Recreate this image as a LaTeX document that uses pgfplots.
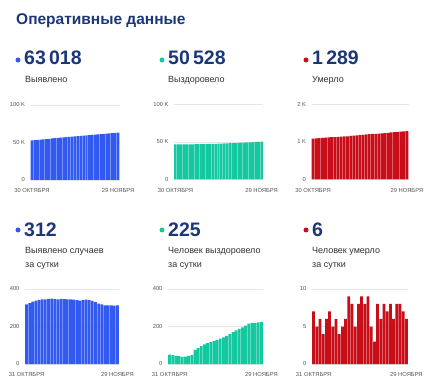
\documentclass[border=0pt]{standalone}
\usepackage{fontspec}
\setmainfont{Liberation Sans}
\usepackage{pgfplots}
\pgfplotsset{compat=1.18}
\definecolor{cblue}{RGB}{50,90,240}
\definecolor{cteal}{RGB}{20,200,160}
\definecolor{cred}{RGB}{200,15,25}
\definecolor{navy}{RGB}{28,55,120}
\definecolor{lbl}{RGB}{50,50,50}
\definecolor{tick}{RGB}{85,85,85}
\pgfplotsset{
  mini/.style={
    scale only axis, ybar, bar width=0.86, enlargelimits=false,
    axis line style={draw=none}, major tick style={draw=none},
    ymin=0, ymajorgrids, grid style={black!10, line width=0.5pt},
    tick label style={font=\fontsize{5.8}{7}\selectfont, text=tick},
    /pgf/number format/assume math mode=true,
    scaled y ticks=false,
    anchor=south west, height=75pt, xtick={0,30},
    yticklabel style={xshift=-2pt},
    xticklabel style={yshift=-1pt},
  },
  top/.style={mini, xmin=-0.5, xmax=30.5, xticklabels={30 ОКТЯБРЯ,29 НОЯБРЯ}},
  bot/.style={mini, xmin=-0.5, xmax=29.5, xtick={0,29}, xticklabels={31 ОКТЯБРЯ,29 НОЯБРЯ}},
}
\begin{document}
\begin{tikzpicture}
\useasboundingbox (0pt,0pt) rectangle (430pt,385pt);
\fill[white] (0pt,0pt) rectangle (430pt,385pt);
\node[anchor=base west, inner sep=0, text=navy, font=\bfseries\fontsize{15.5}{18}\selectfont] at (16pt,360pt) {Оперативные данные};
% top numbers
\fill[cblue] (18pt,325pt) circle (2.5pt);
\fill[cteal] (162pt,325pt) circle (2.5pt);
\fill[cred] (306pt,325pt) circle (2.5pt);
\node[anchor=base west, inner sep=0, text=navy, font=\bfseries\fontsize{19.5}{22}\selectfont] at (24pt,320pt) {63\,018};
\node[anchor=base west, inner sep=0, text=navy, font=\bfseries\fontsize{19.5}{22}\selectfont] at (168pt,320pt) {50\,528};
\node[anchor=base west, inner sep=0, text=navy, font=\bfseries\fontsize{19.5}{22}\selectfont] at (312pt,320pt) {1\,289};
\node[anchor=base west, inner sep=0, text=lbl, font=\fontsize{9}{11}\selectfont] at (25pt,302.5pt) {Выявлено};
\node[anchor=base west, inner sep=0, text=lbl, font=\fontsize{9}{11}\selectfont] at (168pt,302.5pt) {Выздоровело};
\node[anchor=base west, inner sep=0, text=lbl, font=\fontsize{9}{11}\selectfont] at (312pt,302.5pt) {Умерло};
% bottom numbers
\fill[cblue] (18pt,155pt) circle (2.5pt);
\fill[cteal] (162pt,155pt) circle (2.5pt);
\fill[cred] (306pt,155pt) circle (2.5pt);
\node[anchor=base west, inner sep=0, text=navy, font=\bfseries\fontsize{19.5}{22}\selectfont] at (24pt,148pt) {312};
\node[anchor=base west, inner sep=0, text=navy, font=\bfseries\fontsize{19.5}{22}\selectfont] at (168pt,148pt) {225};
\node[anchor=base west, inner sep=0, text=navy, font=\bfseries\fontsize{19.5}{22}\selectfont] at (312pt,148pt) {6};
\foreach \xx/\txt in {25/Выявлено случаев,168/Человек выздоровело,312/Человек умерло}{
  \node[anchor=base west, inner sep=0, text=lbl, font=\fontsize{9}{11}\selectfont] at (\xx pt,131.5pt) {\txt};
  \node[anchor=base west, inner sep=0, text=lbl, font=\fontsize{9}{11}\selectfont] at (\xx pt,117.5pt) {за сутки};
}
% top-left
\begin{axis}[top, at={(30.5pt,205pt)}, width=89pt, ymax=100000, ytick={0,50000,100000}, yticklabels={0,50 K,100 K}]
\addplot[fill=cblue, draw=none] coordinates {(0,52993) (1,53311) (2,53636) (3,53969) (4,54307) (5,54649) (6,54993) (7,55338) (8,55685) (9,56033) (10,56379) (11,56724) (12,57071) (13,57417) (14,57761) (15,58106) (16,58449) (17,58789) (18,59127) (19,59469) (20,59812) (21,60152) (22,60488) (23,60818) (24,61140) (25,61458) (26,61771) (27,62083) (28,62395) (29,62706) (30,63018)};
\end{axis}
% top-middle
\begin{axis}[top, at={(174pt,205.5pt)}, width=89pt, ymax=100000, ytick={0,50000,100000}, yticklabels={0,50 K,100 K}]
\addplot[fill=cteal, draw=none] coordinates {(0,46710) (1,46760) (2,46807) (3,46851) (4,46893) (5,46931) (6,46971) (7,47015) (8,47063) (9,47138) (10,47223) (11,47318) (12,47423) (13,47535) (14,47653) (15,47775) (16,47903) (17,48038) (18,48180) (19,48330) (20,48490) (21,48660) (22,48840) (23,49028) (24,49223) (25,49428) (26,49643) (27,49863) (28,50081) (29,50303) (30,50528)};
\end{axis}
% top-right
\begin{axis}[top, at={(311.5pt,205.5pt)}, width=97pt, ymax=2000, ytick={0,1000,2000}, yticklabels={0,1 K,2 K}]
\addplot[fill=cred, draw=none] coordinates {(0,1092) (1,1099) (2,1104) (3,1110) (4,1114) (5,1120) (6,1127) (7,1132) (8,1138) (9,1142) (10,1147) (11,1153) (12,1162) (13,1170) (14,1175) (15,1183) (16,1192) (17,1200) (18,1209) (19,1214) (20,1217) (21,1225) (22,1231) (23,1239) (24,1246) (25,1254) (26,1260) (27,1268) (28,1276) (29,1283) (30,1289)};
\end{axis}
% bottom-left
\begin{axis}[bot, at={(25pt,21pt)}, width=94pt, ymax=400, ytick={0,200,400}]
\addplot[fill=cblue, draw=none] coordinates {(0,318) (1,325) (2,333) (3,338) (4,342) (5,344) (6,345) (7,347) (8,348) (9,346) (10,345) (11,347) (12,346) (13,344) (14,345) (15,343) (16,340) (17,338) (18,342) (19,343) (20,340) (21,336) (22,330) (23,322) (24,318) (25,313) (26,312) (27,312) (28,311) (29,312)};
\end{axis}
% bottom-middle
\begin{axis}[bot, at={(168pt,21pt)}, width=95pt, ymax=400, ytick={0,200,400}]
\addplot[fill=cteal, draw=none] coordinates {(0,50) (1,47) (2,44) (3,42) (4,38) (5,40) (6,44) (7,48) (8,75) (9,85) (10,95) (11,105) (12,112) (13,118) (14,122) (15,128) (16,135) (17,142) (18,150) (19,160) (20,170) (21,180) (22,188) (23,195) (24,205) (25,215) (26,220) (27,218) (28,222) (29,225)};
\end{axis}
% bottom-right
\begin{axis}[bot, at={(312pt,21pt)}, width=96pt, ymax=10, ytick={0,5,10}]
\addplot[fill=cred, draw=none] coordinates {(0,7) (1,5) (2,6) (3,4) (4,6) (5,7) (6,5) (7,6) (8,4) (9,5) (10,6) (11,9) (12,8) (13,5) (14,8) (15,9) (16,8) (17,9) (18,5) (19,3) (20,8) (21,6) (22,8) (23,7) (24,8) (25,6) (26,8) (27,8) (28,7) (29,6)};
\end{axis}
\end{tikzpicture}
\end{document}
